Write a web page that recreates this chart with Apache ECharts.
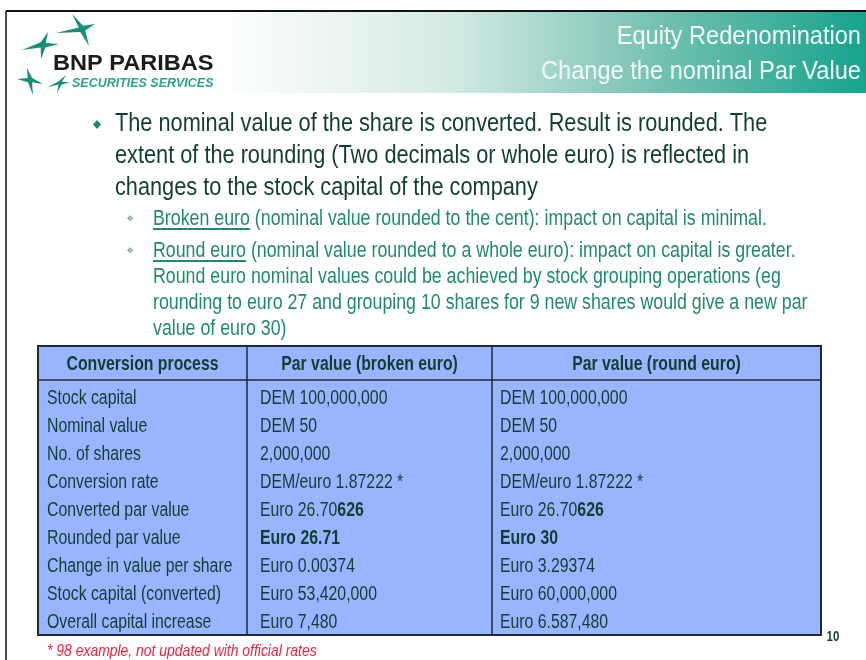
<!DOCTYPE html>
<html>
<head>
<meta charset="utf-8">
<script src="https://cdn.jsdelivr.net/npm/echarts@6/dist/echarts.min.js"></script>
<style>
  html, body { margin: 0; padding: 0; background: #fff; }
  #main { width: 866px; height: 660px; }
</style>
</head>
<body>
<div id="main"></div>
<script>
// slide texts
const titleLines = ['Equity Redenomination', 'Change the nominal Par Value'];
const mainBullet = [
  'The nominal value of the share is converted. Result is rounded. The',
  'extent of the rounding (Two decimals or whole euro) is reflected in',
  'changes to the stock capital of the company'
];
const subBullet1 = ['Broken euro', ' (nominal value rounded to the cent): impact on capital is minimal.'];
const subBullet2 = ['Round euro', ' (nominal value rounded to a whole euro): impact on capital is greater.'];
const subBullet2More = [
  'Round euro nominal values could be achieved by stock grouping operations (eg',
  'rounding to euro 27 and grouping 10 shares for 9 new shares would give a new par',
  'value of euro 30)'
];

// table
const headers = ['Conversion process', 'Par value (broken euro)', 'Par value (round euro)'];
const rowLabels = [
  'Stock capital', 'Nominal value', 'No. of shares', 'Conversion rate',
  'Converted par value', 'Rounded par value', 'Change in value per share',
  'Stock capital (converted)', 'Overall capital increase'
];
const brokenVals = [
  'DEM 100,000,000', 'DEM 50', '2,000,000', 'DEM/euro 1.87222 *',
  'Euro 26.70{b|626}', '{b|Euro 26.71}', 'Euro 0.00374', 'Euro 53,420,000', 'Euro 7,480'
];
const roundVals = [
  'DEM 100,000,000', 'DEM 50', '2,000,000', 'DEM/euro 1.87222 *',
  'Euro 26.70{b|626}', '{b|Euro 30}', 'Euro 3.29374', 'Euro 60,000,000', 'Euro 6.587,480'
];
const footnote = '* 98 example, not updated with official rates';
const pageNo = '10';

// no narrow font installed: squeeze Liberation Sans instead
const SANS = '"Liberation Sans", Arial, sans-serif';
const NX = 0.82;
const dark = '#123d31';
const teal = '#1f8a6f';

const measure = (txt, font) => {
  const c = document.createElement('canvas').getContext('2d');
  c.font = font;
  return c.measureText(txt).width;
};

const els = [];

// slide frame
els.push({ type: 'line', shape: { x1: 6, y1: 11, x2: 866, y2: 11 }, style: { stroke: '#111', lineWidth: 2 } });
els.push({ type: 'line', shape: { x1: 6, y1: 11, x2: 6, y2: 660 }, style: { stroke: '#111', lineWidth: 1.5 } });

// header band
els.push({
  type: 'rect', shape: { x: 215, y: 12, width: 651, height: 81 },
  style: { fill: new echarts.graphic.LinearGradient(0, 0, 1, 0, [
    { offset: 0, color: '#ffffff' },
    { offset: 0.35, color: '#d6ebe6' },
    { offset: 0.7, color: '#6fbfae' },
    { offset: 1, color: '#16a48d' }
  ]) }
});
titleLines.forEach((t, i) => {
  els.push({ type: 'text', x: 861, y: 37 + i * 35, scaleX: 0.945,
    style: { text: t, fontFamily: SANS, fontSize: 25, fill: '#f4fbf8', align: 'right', verticalAlign: 'middle' } });
});

// logo stars, given by their arm tips
const star = (cx, cy, tips, r) => {
  const pts = [];
  tips.forEach((p, k) => {
    const q = tips[(k + 1) % tips.length];
    pts.push(p);
    const a1 = Math.atan2(p[1] - cy, p[0] - cx);
    let a2 = Math.atan2(q[1] - cy, q[0] - cx);
    if (a2 < a1) a2 += Math.PI * 2;
    const m = (a1 + a2) / 2;
    pts.push([cx + r * Math.cos(m), cy + r * Math.sin(m)]);
  });
  return { type: 'polygon', shape: { points: pts }, style: { fill: '#178f77' } };
};
els.push({ type: 'polyline', shape: { points: [[62, 30], [40, 42], [26, 60], [24, 78], [34, 92], [52, 88]], smooth: 0.5 },
  style: { stroke: '#b9ddd3', lineWidth: 1, lineDash: [1, 2], fill: null } });
els.push(star(82, 29, [[72, 14], [95, 24], [89, 46], [56, 33]], 3.5));
els.push(star(43, 45, [[48, 32], [59, 44], [41, 59], [22, 50]], 3.5));
els.push(star(30, 80, [[27, 68], [43, 84], [33, 95], [17, 79]], 3));
els.push(star(60, 83, [[66, 75], [70, 82], [57, 93], [48, 87]], 2.2));
els.push({ type: 'text', x: 53, y: 64, scaleX: 1.07,
  style: { text: 'BNP PARIBAS', fontFamily: SANS, fontWeight: 'bold', fontSize: 22, fill: '#1b1b1b', verticalAlign: 'middle' } });
els.push({ type: 'text', x: 72, y: 84, scaleX: 1.04,
  style: { text: 'SECURITIES SERVICES', fontFamily: SANS, fontWeight: 'bold', fontStyle: 'italic', fontSize: 12, fill: '#2aa58c', verticalAlign: 'middle' } });

// main bullet
els.push({ type: 'polygon', shape: { points: [[97, 120], [101, 124.5], [97, 129], [93, 124.5]] }, style: { fill: '#138a72' } });
mainBullet.forEach((t, i) => {
  els.push({ type: 'text', x: 115, y: 124 + i * 32, scaleX: NX,
    style: { text: t, fontFamily: SANS, fontSize: 26.5, fill: dark, verticalAlign: 'middle' } });
});

// sub bullets
const subFont = 21.7;
const subY = [219, 251, 277, 303, 329];
const subLine = (parts, y) => {
  els.push({ type: 'text', x: 130, y: y,
    style: { text: '\u2756', fontFamily: 'DejaVu Sans', fontSize: 8, fill: '#6aa592', align: 'center', verticalAlign: 'middle' } });
  els.push({ type: 'text', x: 153, y: y, scaleX: NX,
    style: { text: parts[0] + parts[1], fontFamily: SANS, fontSize: subFont, fill: teal, verticalAlign: 'middle' } });
  const w = measure(parts[0], subFont + 'px ' + SANS) * NX;
  els.push({ type: 'line', shape: { x1: 153, y1: y + 10, x2: 153 + w, y2: y + 10 }, style: { stroke: teal, lineWidth: 2 } });
};
subLine(subBullet1, subY[0]);
subLine(subBullet2, subY[1]);
subBullet2More.forEach((t, i) => {
  els.push({ type: 'text', x: 153, y: subY[i + 2], scaleX: NX,
    style: { text: t, fontFamily: SANS, fontSize: subFont, fill: teal, verticalAlign: 'middle' } });
});

// table
const tx0 = 38, tx1 = 247, tx2 = 492, tx3 = 821;
const ty0 = 346, tyH = 380, rowH = 28, ty1 = tyH + rowH * rowLabels.length + 3;
const cellFont = 19.3;
els.push({ type: 'rect', shape: { x: tx0, y: ty0, width: tx3 - tx0, height: ty1 - ty0 },
  style: { fill: '#99b5ff', stroke: '#1d2b33', lineWidth: 2 } });
els.push({ type: 'line', shape: { x1: tx0, y1: tyH, x2: tx3, y2: tyH }, style: { stroke: '#1d2b33', lineWidth: 1.5 } });
[tx1, tx2].forEach(x => {
  els.push({ type: 'line', shape: { x1: x, y1: ty0, x2: x, y2: ty1 }, style: { stroke: '#1d2b33', lineWidth: 1.5 } });
});
const colC = [(tx0 + tx1) / 2, (tx1 + tx2) / 2, (tx2 + tx3) / 2];
headers.forEach((h, i) => {
  els.push({ type: 'text', x: colC[i], y: 364.5, scaleX: NX,
    style: { text: h, fontFamily: SANS, fontWeight: 'bold', fontSize: cellFont, fill: dark, align: 'center', verticalAlign: 'middle' } });
});
const cellX = [47, 260, 500];
const rich = { b: { fontFamily: SANS, fontWeight: 'bold', fontSize: cellFont, fill: dark } };
rowLabels.forEach((lab, r) => {
  const y = 398.5 + r * rowH;
  [lab, brokenVals[r], roundVals[r]].forEach((txt, c) => {
    els.push({ type: 'text', x: cellX[c], y: y, scaleX: NX,
      style: { text: txt, fontFamily: SANS, fontSize: cellFont, fill: dark, verticalAlign: 'middle', rich: rich } });
  });
});

// footnote and page number
els.push({ type: 'text', x: 47, y: 651, scaleX: NX,
  style: { text: footnote, fontFamily: SANS, fontStyle: 'italic', fontSize: 17, fill: '#f5203e', verticalAlign: 'middle' } });
els.push({ type: 'text', x: 833, y: 637, scaleX: NX,
  style: { text: pageNo, fontFamily: SANS, fontWeight: 'bold', fontSize: 14, fill: dark, align: 'center', verticalAlign: 'middle' } });

const chart = echarts.init(document.getElementById('main'));
chart.setOption({ animation: false, graphic: { elements: els } });
</script>
</body>
</html>
